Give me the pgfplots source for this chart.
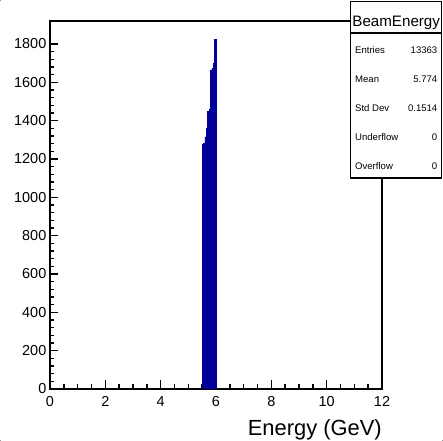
\documentclass[border=0pt]{standalone}
\usepackage{fontspec}
\setmainfont{Liberation Sans}
\usepackage{pgfplots}
\pgfplotsset{compat=1.18}
\definecolor{rootblue}{RGB}{0,0,153}
\definecolor{cornermark}{RGB}{150,150,150}
\begin{document}
\begin{tikzpicture}
\begin{scope}[x=1bp, y=1bp, shift={(-50,-52)}]
\fill[white] (0,0) rectangle (443,441);
\fill[cornermark] (0,0) rectangle (1.2,1.2);
\fill[cornermark] (0,439.8) rectangle (1.2,441);
\fill[cornermark] (441.8,0) rectangle (443,1.2);
\end{scope}
\begin{axis}[
  name=ax, at={(0bp,0bp)}, anchor=south west,
  width=332bp, height=368bp, scale only axis,
  xmin=0, xmax=12, ymin=0, ymax=1920,
  xtick={0,2,...,12}, ytick={0,200,...,1800},
  minor x tick num=3, minor y tick num=4,
  xtick pos=bottom, ytick pos=left, tick align=inside,
  major tick length=8.5bp, minor tick length=4.5bp,
  every tick/.style={line width=1.4bp, black},
  axis line style={line width=1.3bp},
  /pgf/number format/assume math mode=true,
  /pgf/number format/1000 sep={},
  ticklabel style={font=\fontsize{14.5}{14.5}\selectfont},
  yticklabel style={inner sep=0pt, xshift=-3.5bp},
  xticklabel style={inner sep=0pt, yshift=-7.5bp},
  xlabel={Energy (GeV)},
  xlabel style={at={(axis description cs:1,0)}, anchor=base east, yshift=-46bp, inner sep=0pt, font=\fontsize{22}{22}\selectfont},
]
\addplot[ybar interval, fill=rootblue, draw=rootblue, line width=0.5bp] coordinates {
(5.50,1275) (5.55,1282) (5.60,1316) (5.65,1360) (5.70,1450) (5.75,1462) (5.80,1665) (5.85,1672) (5.90,1699) (5.95,1824) (6.00,1824)
};
\end{axis}
\begin{scope}[shift={(ax.south west)}, x=1bp, y=1bp, shift={(-50,-52)}]
\draw[line width=1.5bp, fill=white] (350.7,263) rectangle (441.7,439.3);
\draw[line width=1.2bp] (350.7,408) -- (441.7,408);
\node[anchor=base, inner sep=0pt, font=\fontsize{15.2}{15.2}\selectfont] at (396.2,414.3) {BeamEnergy};
\node[anchor=base west, inner sep=0pt, font=\fontsize{9.6}{9.6}\selectfont] at (355,387.6) {Entries};
\node[anchor=base east, inner sep=0pt, font=\fontsize{9.6}{9.6}\selectfont] at (437.5,387.6) {13363};
\node[anchor=base west, inner sep=0pt, font=\fontsize{9.6}{9.6}\selectfont] at (355,358.1) {Mean};
\node[anchor=base east, inner sep=0pt, font=\fontsize{9.6}{9.6}\selectfont] at (437.5,358.1) {5.774};
\node[anchor=base west, inner sep=0pt, font=\fontsize{9.6}{9.6}\selectfont] at (355,329.1) {Std Dev};
\node[anchor=base east, inner sep=0pt, font=\fontsize{9.6}{9.6}\selectfont] at (437.5,329.1) {0.1514};
\node[anchor=base west, inner sep=0pt, font=\fontsize{9.6}{9.6}\selectfont] at (355,300.3) {Underflow};
\node[anchor=base east, inner sep=0pt, font=\fontsize{9.6}{9.6}\selectfont] at (437.5,300.3) {0};
\node[anchor=base west, inner sep=0pt, font=\fontsize{9.6}{9.6}\selectfont] at (355,271.6) {Overflow};
\node[anchor=base east, inner sep=0pt, font=\fontsize{9.6}{9.6}\selectfont] at (437.5,271.6) {0};
\end{scope}
\end{tikzpicture}
\end{document}
